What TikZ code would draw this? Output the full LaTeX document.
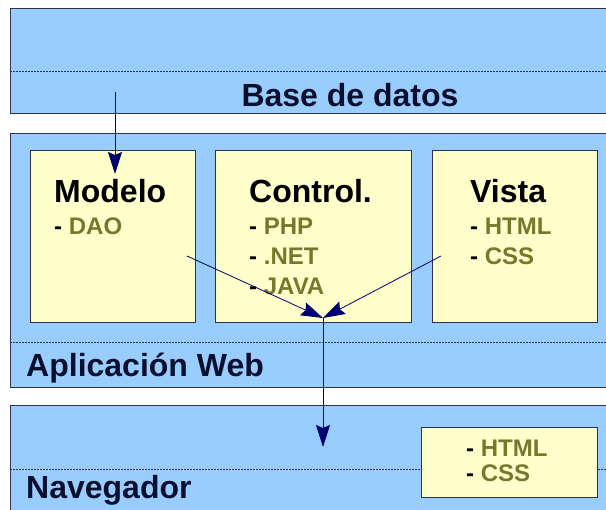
\documentclass[tikz,border=0pt]{standalone}
\usepackage{fontspec}
\setmainfont{Liberation Sans}
\usetikzlibrary{arrows.meta}

\definecolor{azulbanda}{RGB}{153,204,255}
\definecolor{amarillo}{RGB}{255,255,204}
\definecolor{borde}{RGB}{45,50,80}
\definecolor{oliva}{RGB}{120,120,45}
\definecolor{marino}{RGB}{0,0,110}
\definecolor{tinta}{RGB}{10,15,45}

\newcommand{\grande}{\fontsize{32}{36}\selectfont\bfseries}
\newcommand{\elemento}[1]{\fontsize{24}{28}\selectfont\bfseries - {\color{oliva}#1}}

\begin{document}
\begin{tikzpicture}[x=1pt, y=-1pt,
    banda/.style={draw=borde, fill=azulbanda, line width=1.2pt, anchor=north west, inner sep=0},
    caja/.style={draw=borde, fill=amarillo, line width=1pt, anchor=north west, inner sep=0},
    punteado/.style={draw=borde, line width=0.8pt, dash pattern=on 1.5pt off 1.5pt},
    rotulo/.style={anchor=base west, inner sep=0, text=tinta, font=\grande},
    flecha/.style={draw=marino, line width=0.8pt, -{Stealth[length=22pt, width=14pt, inset=3pt]}}]

    \clip (0,0) rectangle (606,510);
    \fill[white] (0,0) rectangle (606,510);

    % bandas
    \node[banda, minimum width=620, minimum height=105] (datos) at (10,8) {};
    \node[banda, minimum width=620, minimum height=254] (web) at (10,133) {};
    \node[banda, minimum width=620, minimum height=130] (nav) at (10,405) {};

    \draw[punteado] (10,71) -- (606,71);
    \draw[punteado] (10,342) -- (606,342);
    \draw[punteado] (10,469) -- (606,469);

    \node[rotulo, anchor=base] (tdatos) at (350,107) {Base de datos};
    \node[rotulo] (tweb) at (26,377) {Aplicación Web};
    \node[rotulo] (tnav) at (26,499) {Navegador};

    % cajas
    \node[caja, minimum width=165, minimum height=172] (modelo) at (30,150) {};
    \node[caja, minimum width=196, minimum height=172] (control) at (215,150) {};
    \node[caja, minimum width=165, minimum height=172] (vista) at (432,150) {};
    \node[caja, minimum width=176, minimum height=70] (cliente) at (421,427) {};

    \node[rotulo, text=black] (tmodelo) at (54,203) {Modelo};
    \node[rotulo, text=black] (tcontrol) at (249,203) {Control.};
    \node[rotulo, text=black] (tvista) at (470,203) {Vista};

    \node[anchor=base west, inner sep=0] (dao) at (54,235) {\elemento{DAO}};
    \node[anchor=base west, inner sep=0] (php) at (249,235) {\elemento{PHP}};
    \node[anchor=base west, inner sep=0] (net) at (249,265) {\elemento{.NET}};
    \node[anchor=base west, inner sep=0] (java) at (249,295) {\elemento{JAVA}};
    \node[anchor=base west, inner sep=0] (html) at (470,235) {\elemento{HTML}};
    \node[anchor=base west, inner sep=0] (css) at (470,265) {\elemento{CSS}};
    \node[anchor=base west, inner sep=0] (html2) at (466,457) {\elemento{HTML}};
    \node[anchor=base west, inner sep=0] (css2) at (466,482) {\elemento{CSS}};

    % flechas
    \coordinate (salidaDatos) at (115,92);
    \coordinate (entradaModelo) at (115,174);
    \coordinate (salidaModelo) at (187,256);
    \coordinate (salidaVista) at (441,256);
    \coordinate (junta) at (323,318);
    \coordinate (entradaNav) at (323,447);

    \draw[flecha] (salidaDatos) -- (entradaModelo);
    \draw[flecha] (salidaModelo) -- (junta);
    \draw[flecha] (salidaVista) -- (junta);
    \draw[flecha] (junta) -- (entradaNav);

\end{tikzpicture}
\end{document}
